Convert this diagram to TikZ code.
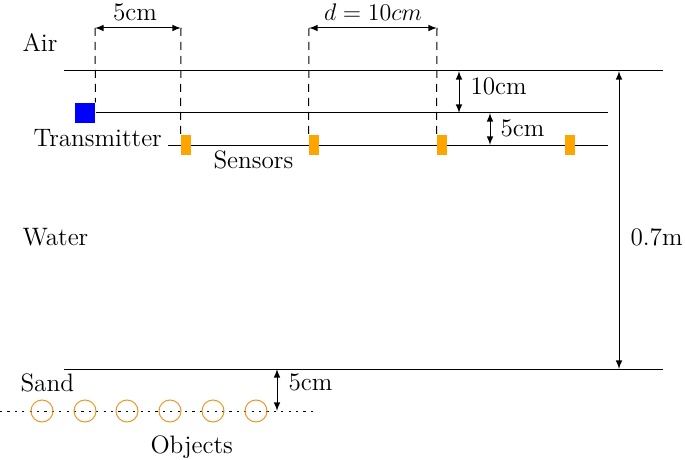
\documentclass[tikz,border=0pt]{standalone}
\usepackage{amsmath}
\usepackage{tikz}
\usetikzlibrary{arrows}
\usepackage{xcolor}
\definecolor{sensorcol}{RGB}{255,165,0}
\definecolor{objcol}{RGB}{235,150,40}

\begin{document}
\begin{tikzpicture}[x=0.5pt,y=-0.5pt,>=latex,line width=0.5pt,font=\fontsize{12.6}{15}\selectfont,
  lbl/.style={inner sep=0pt,anchor=west},
  sensor/.style={fill=sensorcol,inner sep=0pt,minimum width=5pt,minimum height=10pt},
  guide/.style={dash pattern=on 4pt off 3pt},
  dim/.style={<->}]
\useasboundingbox (0,0) rectangle (685,460);

% surface, sand and the two horizontal lines
\draw (64,71) coordinate (surfL) -- (663,71) coordinate (surfR);
\draw (64,369) coordinate (sandL) -- (663,369) coordinate (sandR);
\node [fill=blue,inner sep=0pt,minimum size=10pt] (tx) at (85,113) {};
\draw (tx.east) -- (608,113) coordinate (txR);
\draw (168,145) coordinate (rxL) -- (608,145) coordinate (rxR);

% sensors
\foreach \i/\x in {1/186,2/314,3/442,4/570}
  \node [sensor] (s\i) at (\x,145) {};

% dashed guides
\coordinate (g0) at (95,28);
\coordinate (g1) at (181,28);
\coordinate (g2) at (309,28);
\coordinate (g3) at (437,28);
\draw[guide] (g0) -- (tx.north east);
\draw[guide] (g1) -- (s1.north west);
\draw[guide] (g2) -- (s2.north west);
\draw[guide] (g3) -- (s3.north west);
\draw[dim] (g0) -- (g1);
\draw[dim] (g2) -- (g3);
\node (d5) at (135,12) {5cm};
\node (d10) at (373,12) {$d = 10cm$};

% depth arrows
\coordinate (a1) at (459,71);
\coordinate (a2) at (459,113);
\draw[dim] (a1) -- (a2);
\node [lbl] (t10) at (470,86) {10cm};
\coordinate (b1) at (490,113);
\coordinate (b2) at (490,145);
\draw[dim] (b1) -- (b2);
\node [lbl] (t5) at (500,128) {5cm};
\coordinate (c1) at (619,71);
\coordinate (c2) at (619,369);
\draw[dim] (c1) -- (c2);
\node [lbl] (t07) at (630,237) {0.7m};

% buried objects
\coordinate (o1) at (277,369);
\coordinate (o2) at (277,411);
\draw[dim] (o1) -- (o2);
\node [lbl] (tb5) at (288,382) {5cm};
\draw[dash pattern=on 1.1pt off 2.6pt] (0,411) coordinate (objL) -- (315,411) coordinate (objR);
\foreach \i/\x in {1/42,2/85,3/127,4/170,5/213,6/256}
  \node [draw=objcol,circle,inner sep=0pt,minimum size=11pt] (o\i c) at (\x,411) {};

% labels
\node [lbl] (air) at (22,43) {Air};
\node [lbl] (water) at (22,237) {Water};
\node [lbl] (sand) at (20,383) {Sand};
\node [lbl] (txl) at (33,138) {Transmitter};
\node [lbl] (rxl) at (213,160) {Sensors};
\node [lbl] (objl) at (150,447) {Objects};
\end{tikzpicture}
\end{document}
